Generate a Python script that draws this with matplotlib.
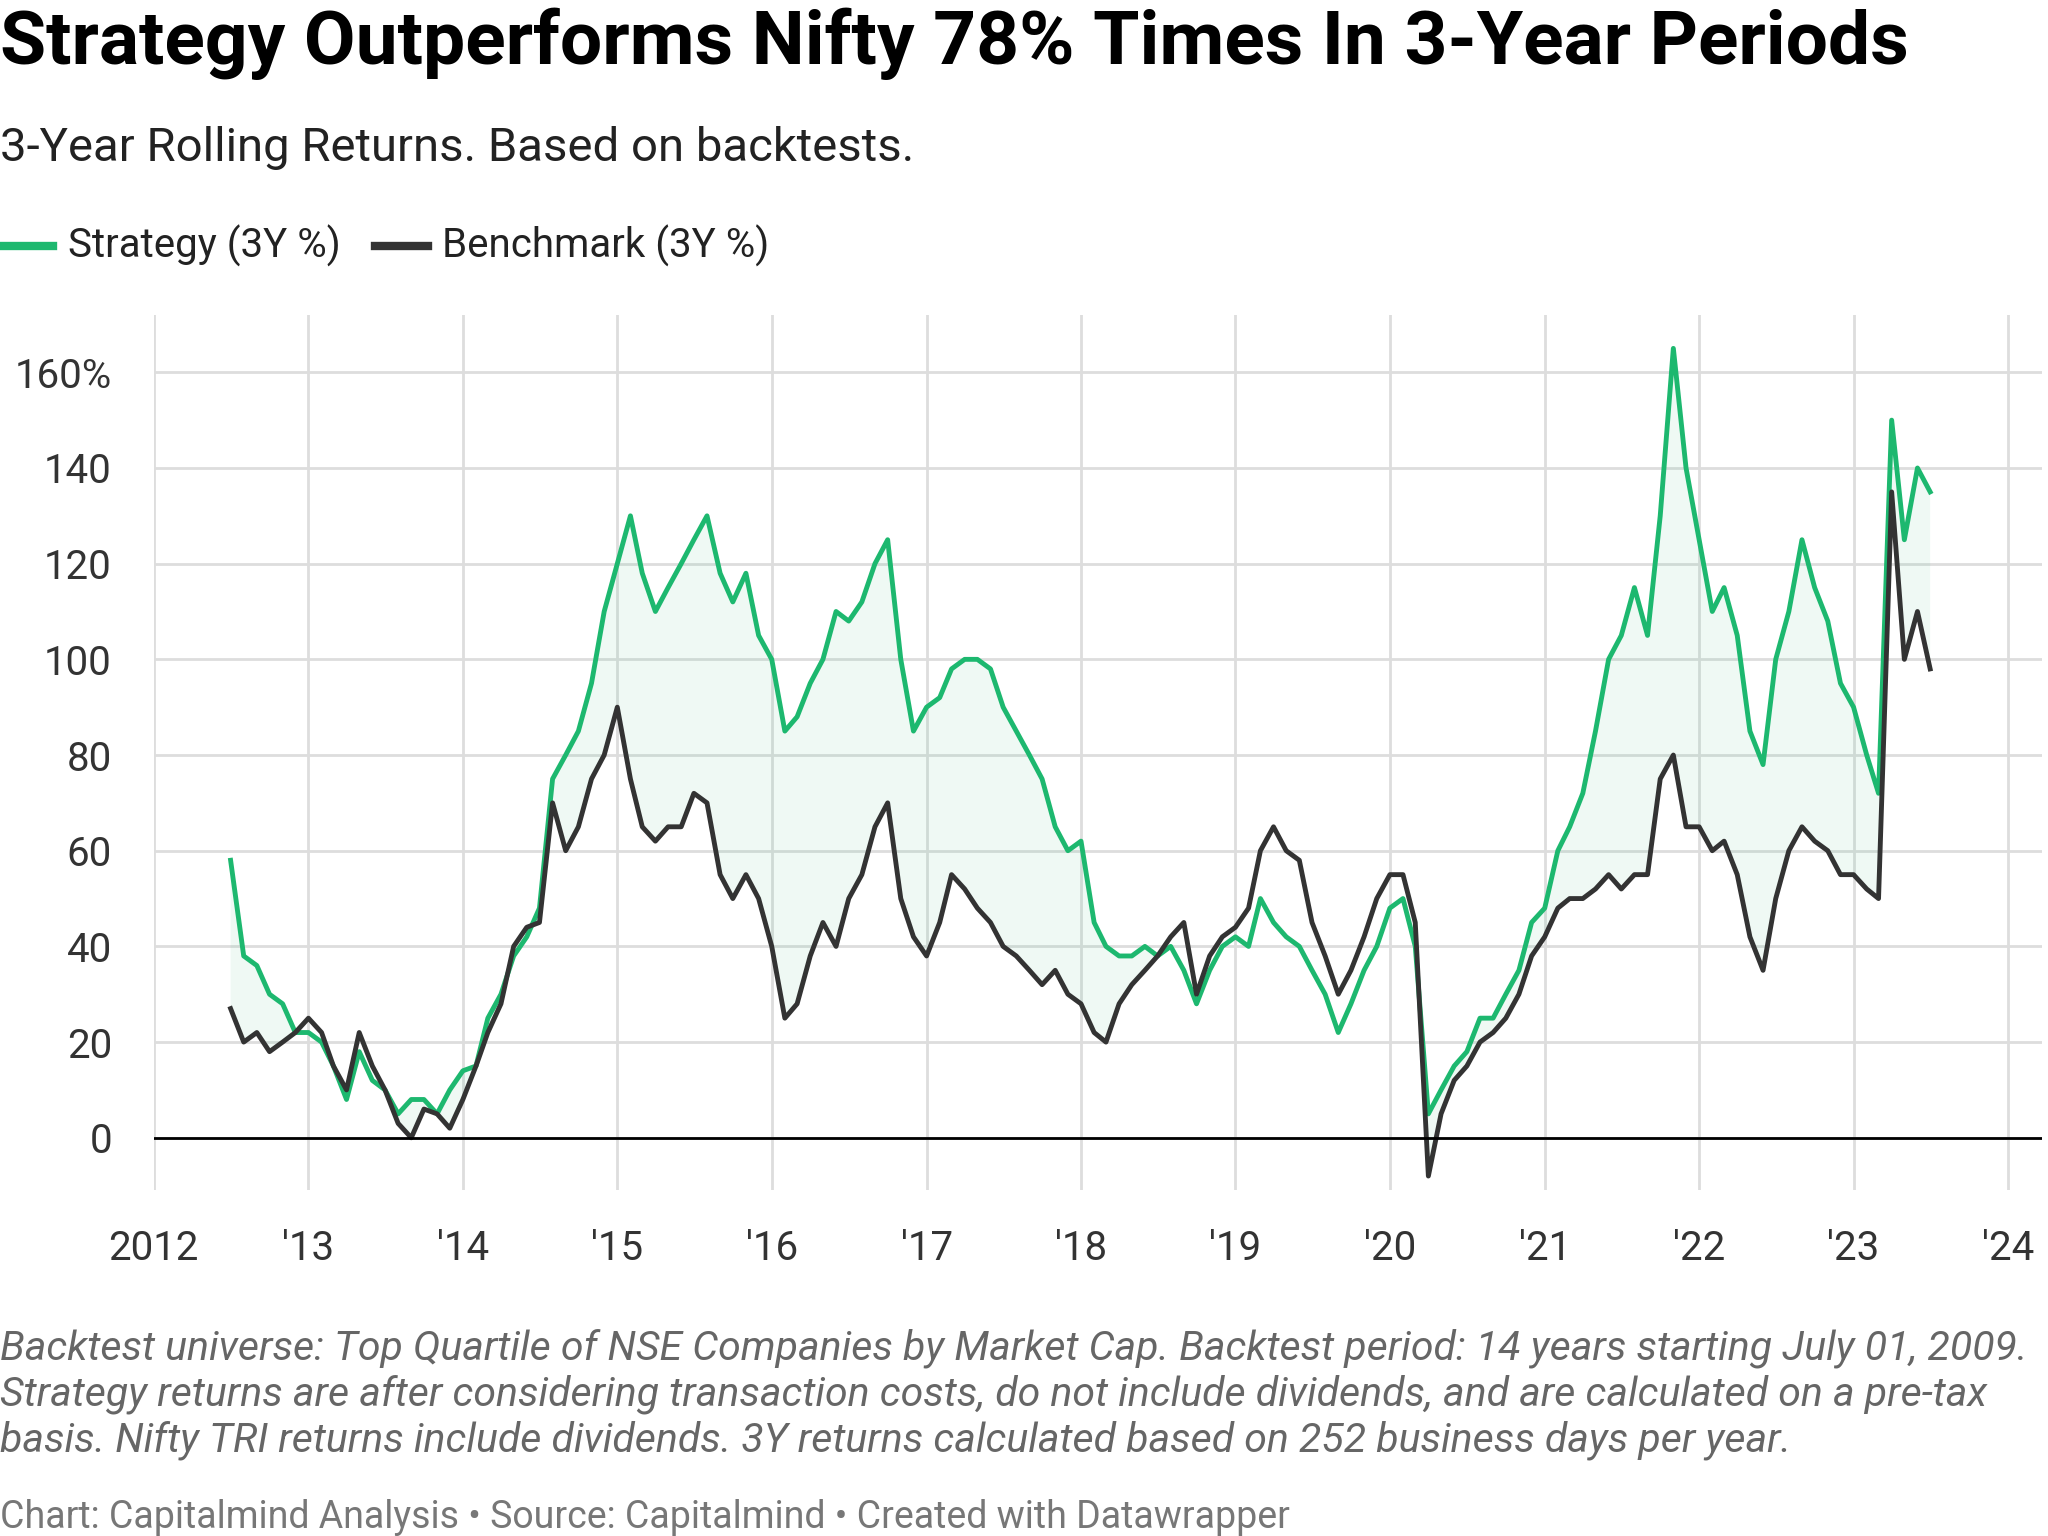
import matplotlib
matplotlib.use("Agg")
import matplotlib.pyplot as plt
import pandas as pd

plt.rcParams['font.family'] = ['Roboto', 'DejaVu Sans']

# monthly readings, Jul 2012 .. Jul 2023
dates = pd.date_range("2012-07-01", "2023-07-01", freq="MS")
strategy = [58, 38, 36, 30, 28, 22,
            22, 20, 15, 8, 18, 12, 10, 5, 8, 8, 5, 10,
            14, 15, 25, 30, 38, 42, 48, 75, 80, 85, 95, 110,
            120, 130, 118, 110, 115, 120, 125, 130, 118, 112, 118, 105,
            100, 85, 88, 95, 100, 110, 108, 112, 120, 125, 100, 85,
            90, 92, 98, 100, 100, 98, 90, 85, 80, 75, 65, 60,
            62, 45, 40, 38, 38, 40, 38, 40, 35, 28, 35, 40,
            42, 40, 50, 45, 42, 40, 35, 30, 22, 28, 35, 40,
            48, 50, 40, 5, 10, 15, 18, 25, 25, 30, 35, 45,
            48, 60, 65, 72, 85, 100, 105, 115, 105, 130, 165, 140,
            125, 110, 115, 105, 85, 78, 100, 110, 125, 115, 108, 95,
            90, 80, 72, 150, 125, 140, 135]
benchmark = [27, 20, 22, 18, 20, 22,
             25, 22, 15, 10, 22, 15, 10, 3, 0, 6, 5, 2,
             8, 15, 22, 28, 40, 44, 45, 70, 60, 65, 75, 80,
             90, 75, 65, 62, 65, 65, 72, 70, 55, 50, 55, 50,
             40, 25, 28, 38, 45, 40, 50, 55, 65, 70, 50, 42,
             38, 45, 55, 52, 48, 45, 40, 38, 35, 32, 35, 30,
             28, 22, 20, 28, 32, 35, 38, 42, 45, 30, 38, 42,
             44, 48, 60, 65, 60, 58, 45, 38, 30, 35, 42, 50,
             55, 55, 45, -8, 5, 12, 15, 20, 22, 25, 30, 38,
             42, 48, 50, 50, 52, 55, 52, 55, 55, 75, 80, 65,
             65, 60, 62, 55, 42, 35, 50, 60, 65, 62, 60, 55,
             55, 52, 50, 135, 100, 110, 98]
yticks = [0, 20, 40, 60, 80, 100, 120, 140, 160]
ytick_labels = ["0", "20", "40", "60", "80", "100", "120", "140", "160%"]
xyears = list(range(2012, 2025))
xtick_labels = ["2012"] + ["'%02d" % (y % 100) for y in xyears[1:]]

green = "#1db86f"
dark = "#333333"

fig = plt.figure(figsize=(20.48, 15.36), dpi=100)
ax = fig.add_axes([0.075, 0.225, 0.922, 0.57])

s = pd.Series(strategy, index=dates)
b = pd.Series(benchmark, index=dates)
ax.fill_between(dates, s, b, where=s >= b, interpolate=True, color=green, alpha=0.07, lw=0)
ax.plot(dates, b, color=dark, lw=3.5, zorder=3)
ax.plot(dates, s, color=green, lw=3.5, zorder=2)
ax.axhline(0, color="black", lw=2, zorder=4)

ax.set_ylim(-11, 172)
ax.set_xlim(pd.Timestamp("2012-01-01"), pd.Timestamp("2024-01-01") + pd.Timedelta(days=80))
ax.set_yticks(yticks)
ax.set_yticklabels(ytick_labels)
ax.set_xticks([pd.Timestamp(f"{y}-01-01") for y in xyears])
ax.set_xticklabels(xtick_labels)
ax.grid(True, color="#dddddd", lw=2)
ax.set_axisbelow(True)
for sp in ax.spines.values():
    sp.set_visible(False)
ax.tick_params(length=0, labelsize=29, colors="#333333")
ax.tick_params(axis="y", pad=30)
ax.tick_params(axis="x", pad=28)

fig.text(0.0, 0.995, "Strategy Outperforms Nifty 78% Times In 3-Year Periods", fontsize=54,
         fontweight="bold", va="top", ha="left")
fig.text(0.0, 0.918, "3-Year Rolling Returns. Based on backtests.", fontsize=34, va="top", ha="left",
         color="#222222")
fig.lines.append(plt.Line2D([0.0, 0.026], [0.84, 0.84], color=green, lw=6, transform=fig.transFigure))
fig.text(0.033, 0.84, "Strategy (3Y %)", fontsize=29, va="center", color="#222222")
fig.lines.append(plt.Line2D([0.183, 0.209], [0.84, 0.84], color=dark, lw=6, transform=fig.transFigure))
fig.text(0.216, 0.84, "Benchmark (3Y %)", fontsize=29, va="center", color="#222222")

note = ("Backtest universe: Top Quartile of NSE Companies by Market Cap. Backtest period: 14 years starting July 01, 2009.\n"
        "Strategy returns are after considering transaction costs, do not include dividends, and are calculated on a pre-tax\n"
        "basis. Nifty TRI returns include dividends. 3Y returns calculated based on 252 business days per year.")
fig.text(0.0, 0.135, note, fontsize=29.5, style="italic", color="#666666", va="top", linespacing=1.2)
fig.text(0.0, 0.0, "Chart: Capitalmind Analysis • Source: Capitalmind • Created with Datawrapper",
         fontsize=27, color="#777777", va="bottom")

fig.savefig("out.png", dpi=100)
